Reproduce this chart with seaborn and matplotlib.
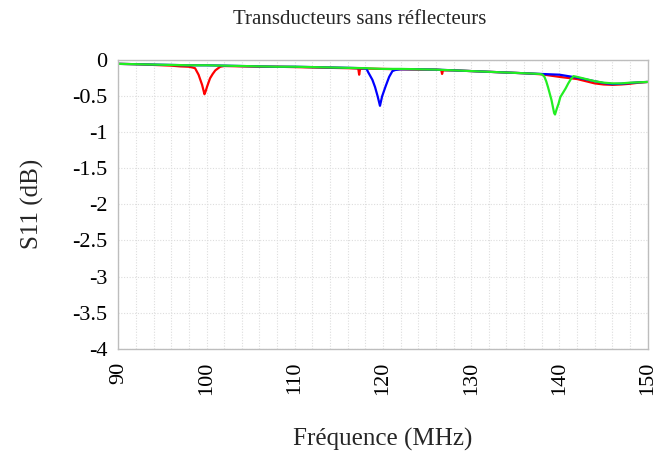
import numpy as np
import pandas as pd
import matplotlib
matplotlib.use("Agg")
import matplotlib.pyplot as plt
import seaborn as sns

# S11 measurements (MHz, dB) for three transducers
red_freq = [90, 92, 94, 96, 97, 98, 98.4, 98.7, 99.1, 99.5, 99.77, 99.9, 100.05, 100.4, 100.7,
            101.0, 101.55, 102, 104, 106, 108, 110, 112, 114, 116, 117.2, 117.3, 117.4, 118,
            120, 122, 124, 126, 126.6, 126.7, 126.8, 128, 130, 132, 134, 136, 138, 140, 142,
            144, 145, 146, 147, 148, 149, 150]
red_s11 = [-0.06, -0.065, -0.075, -0.085, -0.095, -0.10, -0.11, -0.12, -0.21, -0.35, -0.48, -0.44,
           -0.38, -0.26, -0.20, -0.15, -0.10, -0.09, -0.095, -0.10, -0.10, -0.105, -0.11, -0.115,
           -0.12, -0.125, -0.21, -0.13, -0.125, -0.13, -0.135, -0.14, -0.14, -0.145, -0.20, -0.15,
           -0.15, -0.16, -0.17, -0.18, -0.19, -0.205, -0.24, -0.27, -0.33, -0.345, -0.35, -0.345,
           -0.335, -0.32, -0.31]

blue_freq = [90, 92, 94, 96, 98, 100, 102, 104, 106, 108, 110, 112, 114, 116, 117.5, 118.0,
             118.15, 118.3, 118.8, 119.1, 119.4, 119.66, 119.9, 120.3, 120.7, 121.07, 121.4,
             122, 124, 126, 128, 130, 132, 134, 136, 138, 140, 142, 144, 145, 146, 147, 148,
             149, 150]
blue_s11 = [-0.06, -0.065, -0.07, -0.075, -0.08, -0.08, -0.085, -0.09, -0.095, -0.10, -0.10,
            -0.105, -0.11, -0.115, -0.12, -0.125, -0.13, -0.17, -0.28, -0.38, -0.51, -0.64,
            -0.51, -0.37, -0.24, -0.16, -0.145, -0.135, -0.135, -0.14, -0.15, -0.16, -0.17,
            -0.18, -0.19, -0.20, -0.21, -0.25, -0.30, -0.325, -0.34, -0.335, -0.325, -0.315,
            -0.31]

green_freq = [90, 92, 94, 96, 98, 100, 102, 104, 106, 108, 110, 112, 114, 116, 118, 120, 122,
              124, 126, 128, 130, 132, 134, 136, 137, 137.8, 138.1, 138.3, 138.5, 138.7, 138.9,
              139.1, 139.3, 139.4, 139.5, 139.7, 139.9, 140.1, 140.4, 140.7, 141.0, 141.3,
              141.6, 142, 143, 144, 145, 146, 147, 148, 149, 150]
green_s11 = [-0.06, -0.065, -0.07, -0.075, -0.08, -0.08, -0.085, -0.09, -0.095, -0.10, -0.10,
             -0.105, -0.11, -0.115, -0.12, -0.13, -0.13, -0.135, -0.14, -0.15, -0.16, -0.17,
             -0.18, -0.19, -0.195, -0.20, -0.21, -0.24, -0.30, -0.38, -0.47, -0.56, -0.68,
             -0.74, -0.76, -0.68, -0.61, -0.52, -0.46, -0.40, -0.33, -0.27, -0.23, -0.24,
             -0.27, -0.30, -0.32, -0.33, -0.33, -0.32, -0.315, -0.31]

x_ticks = [90, 100, 110, 120, 130, 140, 150]
y_ticks = [0, -0.5, -1, -1.5, -2, -2.5, -3, -3.5, -4]
y_tick_labels = ["0", "-0.5", "-1", "-1.5", "-2", "-2.5", "-3", "-3.5", "-4"]

df = pd.concat([
    pd.DataFrame({"f": red_freq, "s11": red_s11, "trace": "r"}),
    pd.DataFrame({"f": blue_freq, "s11": blue_s11, "trace": "b"}),
    pd.DataFrame({"f": green_freq, "s11": green_s11, "trace": "g"}),
], ignore_index=True)

sns.set_style("white")
plt.rcParams["font.family"] = ["Liberation Serif", "DejaVu Serif"]

fig = plt.figure(figsize=(6.56, 4.57), dpi=100)
ax = fig.add_axes([0.1803, 0.2363, 0.8070, 0.6335])

sns.lineplot(data=df, x="f", y="s11", hue="trace", sort=False, estimator=None,
             palette={"r": "#ff0000", "b": "#0000ff", "g": "#22ee22"},
             linewidth=1.6, legend=False, ax=ax)

ax.set_xlim(90, 150)
ax.set_ylim(-4, 0)
ax.set_xticks(x_ticks)
ax.set_xticks(np.arange(90, 151, 2), minor=True)
ax.set_yticks(y_ticks)
ax.set_yticklabels(y_tick_labels)
ax.grid(True, which="both", axis="x", color="#dddddd", linestyle=(0, (1, 1.5)), linewidth=0.8)
ax.grid(True, which="major", axis="y", color="#dddddd", linestyle=(0, (1, 1.5)), linewidth=0.8)
ax.tick_params(axis="both", which="both", length=0, labelsize=16, colors="black")
ax.tick_params(axis="x", pad=9, labelrotation=90)
ax.tick_params(axis="y", pad=8)
for s in ax.spines.values():
    s.set_color("#bdbdbd")
    s.set_linewidth(1.0)

ax.set_xlabel("Fréquence (MHz)", fontsize=18, labelpad=24)
ax.set_ylabel("S11 (dB)", fontsize=18, labelpad=20)
fig.text(0.549, 0.958, "Transducteurs sans réflecteurs", fontsize=15, ha="center", va="center")

fig.savefig("out.png", dpi=100)
